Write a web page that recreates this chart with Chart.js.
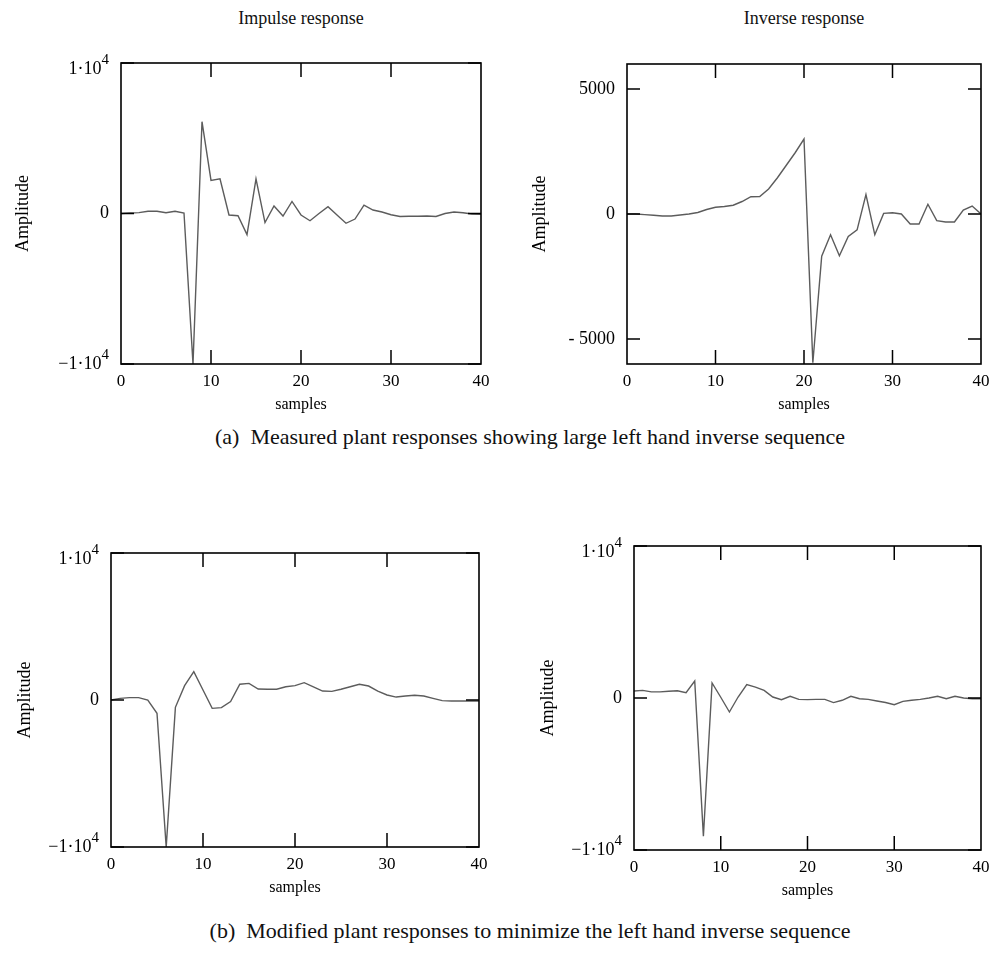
<!DOCTYPE html>
<html>
<head>
<meta charset="utf-8">
<script src="https://cdn.jsdelivr.net/npm/chart.js@4.4.0/dist/chart.umd.min.js"></script>
<style>
  body { margin: 0; background: #fff; font-family: "Liberation Serif", "Times New Roman", serif; }
  #page { position: relative; width: 997px; height: 960px; overflow: hidden; }
  canvas { position: absolute; }
  .txt { position: absolute; color: #111; white-space: nowrap; transform: translateX(-50%); }
  .title { font-size: 18px; top: 8px; }
  .cap { font-size: 22px; }
</style>
</head>
<body>
<div id="page">
  <div class="txt title" style="left:301px">Impulse response</div>
  <div class="txt title" style="left:804px">Inverse response</div>
  <div class="txt cap" style="left:530px; top:424px">(a)&nbsp; Measured plant responses showing large left hand inverse sequence</div>
  <div class="txt cap" style="left:530px; top:918px">(b)&nbsp; Modified plant responses to minimize the left hand inverse sequence</div>

  <canvas id="c1" width="500" height="400" style="left:0; top:40px"></canvas>
  <canvas id="c2" width="492" height="400" style="left:505px; top:40px"></canvas>
  <canvas id="c3" width="500" height="400" style="left:0; top:530px"></canvas>
  <canvas id="c4" width="492" height="410" style="left:505px; top:520px"></canvas>
</div>

<script>
// sample index 0..40
const samples = [0,1,2,3,4,5,6,7,8,9,10,11,12,13,14,15,16,17,18,19,20,
                 21,22,23,24,25,26,27,28,29,30,31,32,33,34,35,36,37,38,39,40];

// (a) measured plant
const impulseMeasured = [0, 30, 60, 150, 150, 50, 150, 30, -10000, 6100,
  2200, 2300, -100, -150, -1400, 2300, -600, 500, -170, 800,
  -100, -480, 0, 450, -100, -650, -370, 560, 230, 100,
  -80, -200, -180, -180, -170, -200, 0, 100, 50, -30, -50];
const inverseMeasured = [0, 0, -25, -50, -80, -80, -40, 0, 60, 180,
  270, 300, 350, 500, 690, 700, 1000, 1450, 1950, 2450,
  3000, -5950, -1690, -830, -1670, -900, -635, 780, -830, 25,
  50, 0, -400, -400, 390, -265, -320, -320, 160, 320, 0];

// (b) modified plant
const impulseModified = [0, 110, 160, 160, 0, -900, -10000, -500, 975, 1930,
  680, -570, -520, -110, 1070, 1130, 750, 730, 730, 900,
  975, 1180, 900, 610, 590, 730, 900, 1070, 950, 610,
  340, 200, 270, 320, 270, 110, -45, -70, -70, -70, -70];
const inverseModified = [460, 500, 400, 400, 440, 480, 350, 1120, -9100, 990,
  50, -920, 65, 880, 720, 500, 65, -110, 110, -90,
  -110, -90, -90, -300, -150, 110, -45, -90, -200, -300,
  -440, -220, -150, -90, 0, 110, -45, 110, 0, -45, -45];

// tick marks / labels
const xMarks = [10, 20, 30];
const bigTicks = [10000, 0, -10000];
const bigLabels = ['1·10^4', '0', '−1·10^4'];
const smallTicks = [5000, 0, -5000];
const smallLabels = ['5000', '0', '- 5000'];

const SERIF = '"Liberation Serif", "Times New Roman", serif';

// box, inward ticks and y labels, drawn from the scales
const framePlugin = {
  id: 'frame',
  afterDatasetsDraw(chart, args, opts) {
    const { ctx, chartArea: a, scales: { x, y } } = chart;
    ctx.save();
    ctx.strokeStyle = '#000';
    ctx.lineWidth = 1.6;
    ctx.strokeRect(a.left, a.top, a.right - a.left, a.bottom - a.top);

    ctx.lineWidth = 1.5;
    xMarks.forEach(v => {
      const px = x.getPixelForValue(v);
      ctx.beginPath();
      ctx.moveTo(px, a.bottom); ctx.lineTo(px, a.bottom - 14);
      ctx.moveTo(px, a.top); ctx.lineTo(px, a.top + 14);
      ctx.stroke();
    });
    opts.ticks.forEach(v => {
      const py = y.getPixelForValue(v);
      ctx.beginPath();
      ctx.moveTo(a.left, py); ctx.lineTo(a.left + 13, py);
      ctx.moveTo(a.right, py); ctx.lineTo(a.right - 13, py);
      ctx.stroke();
    });

    // y labels (with raised exponent)
    ctx.fillStyle = '#000';
    ctx.textBaseline = 'middle';
    ctx.textAlign = 'right';
    opts.ticks.forEach((v, i) => {
      let py = y.getPixelForValue(v);
      let rx = a.left - 12;
      const parts = opts.labels[i].split('^');
      if (parts.length > 1) {
        if (v > 0) py += 6;
        ctx.font = '15px ' + SERIF;
        ctx.fillText(parts[1], rx, py - 9);
        rx -= ctx.measureText(parts[1]).width;
      }
      ctx.font = '18px ' + SERIF;
      ctx.fillText(parts[0], rx, py);
    });
    ctx.restore();
  }
};

function makeChart(id, values, cfg) {
  const points = samples.map((s, i) => ({ x: s, y: values[i] }));
  return new Chart(document.getElementById(id), {
    type: 'line',
    data: {
      datasets: [{
        data: points,
        borderColor: '#5c5c5c',
        borderWidth: 1.4,
        pointRadius: 0,
        tension: 0
      }]
    },
    options: {
      responsive: false,
      animation: false,
      layout: { padding: cfg.padding },
      plugins: {
        legend: { display: false },
        tooltip: { enabled: false },
        frame: { ticks: cfg.ticks, labels: cfg.labels }
      },
      scales: {
        x: {
          type: 'linear',
          min: 0, max: 40,
          grid: { display: false, drawTicks: false },
          border: { display: false },
          ticks: { stepSize: 10, autoSkip: false, maxRotation: 0, padding: 7,
                   color: '#000', font: { family: SERIF, size: 17 } },
          title: { display: true, text: 'samples', color: '#000',
                   font: { family: SERIF, size: 16 }, padding: { bottom: cfg.samplesPad } },
          afterFit: s => { s.height = cfg.xHeight; }
        },
        y: {
          min: cfg.yMin, max: cfg.yMax,
          grid: { display: false, drawTicks: false },
          border: { display: false },
          ticks: { display: false },
          title: { display: true, text: 'Amplitude', color: '#000',
                   font: { family: SERIF, size: 18 }, padding: { top: cfg.ampPad } },
          afterFit: s => { s.width = cfg.yWidth; }
        }
      }
    },
    plugins: [framePlugin]
  });
}

makeChart('c1', impulseMeasured, {
  padding: { top: 23, right: 19, left: 0, bottom: 0 },
  yWidth: 121, xHeight: 76, samplesPad: 26, ampPad: 12,
  yMin: -10000, yMax: 10000, ticks: bigTicks, labels: bigLabels
});
makeChart('c2', inverseMeasured, {
  padding: { top: 24, right: 16, left: 0, bottom: 0 },
  yWidth: 122, xHeight: 76, samplesPad: 26, ampPad: 24,
  yMin: -6000, yMax: 6000, ticks: smallTicks, labels: smallLabels
});
makeChart('c3', impulseModified, {
  padding: { top: 23, right: 21, left: 0, bottom: 0 },
  yWidth: 111, xHeight: 83, samplesPad: 33, ampPad: 14,
  yMin: -10000, yMax: 10000, ticks: bigTicks, labels: bigLabels
});
makeChart('c4', inverseModified, {
  padding: { top: 26, right: 16, left: 0, bottom: 0 },
  yWidth: 129, xHeight: 80, samplesPad: 30, ampPad: 32,
  yMin: -10000, yMax: 10000, ticks: bigTicks, labels: bigLabels
});
</script>
</body>
</html>
